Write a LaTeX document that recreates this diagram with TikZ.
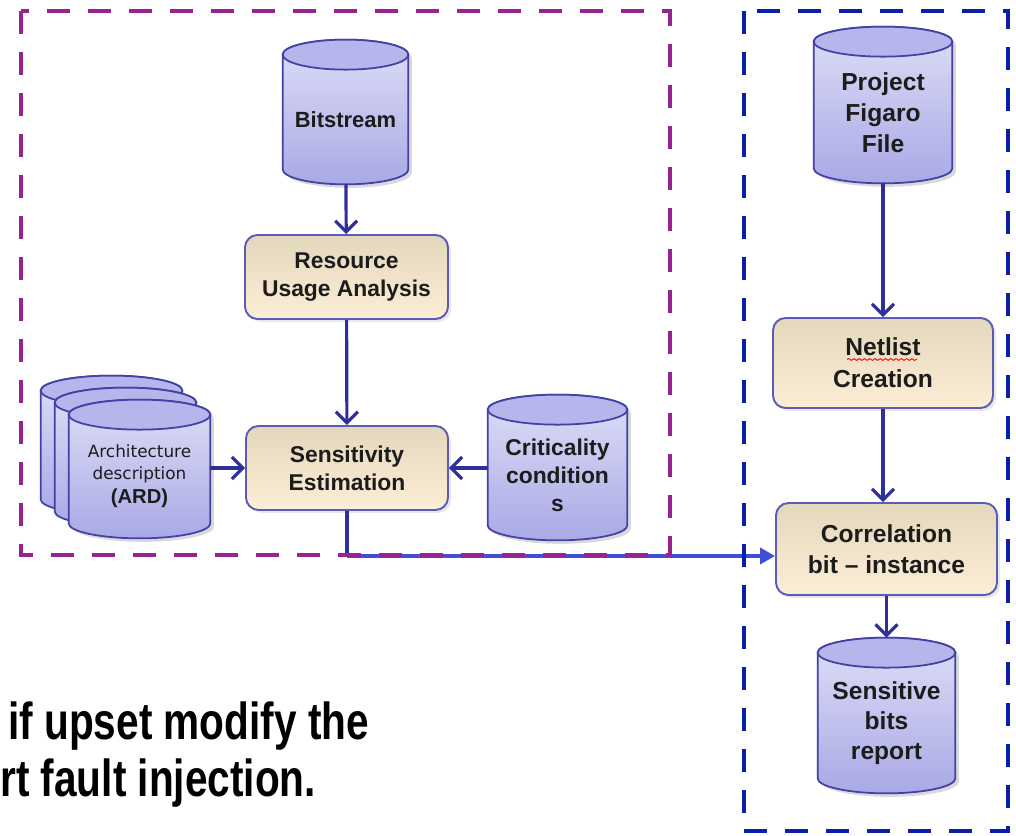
\documentclass[tikz,border=0pt]{standalone}
\usepackage{fontspec}
\setmainfont{Liberation Sans}
\newfontfamily\dejavu{DejaVu Sans}
\usepackage{tikz}
\usetikzlibrary{arrows.meta,calc,shadows,backgrounds,decorations.pathmorphing}

\definecolor{boxtop}{HTML}{E3D7BC}
\definecolor{boxbot}{HTML}{FCEED6}
\definecolor{boxedge}{HTML}{5C5CB8}
\definecolor{cyltop}{HTML}{DEDEF7}
\definecolor{cylbot}{HTML}{A9A9E6}
\definecolor{cylend}{HTML}{B6B6EC}
\definecolor{cyledge}{HTML}{4141A6}
\definecolor{flowc}{HTML}{2F2F9C}
\definecolor{linkc}{HTML}{3F4FD8}
\definecolor{framep}{HTML}{98228F}
\definecolor{frameb}{HTML}{0B20A8}
\definecolor{txt}{HTML}{1C1C1C}

% cylinder drawn round a named node: node, dx, dy, style
\newcommand{\cylbody}[4]{%
  \path[#4] let \p1=($(#1.north west)+(#2,#3)$), \p2=($(#1.south east)+(#2,#3)$),
    \n1={(\x2-\x1)/2} in
    (\x1,\y1) -- (\x1,\y2+0.3cm)
    arc[start angle=180,end angle=360,x radius=\n1,y radius=0.3cm]
    -- (\x2,\y1)
    arc[start angle=0,end angle=180,x radius=\n1,y radius=0.3cm] -- cycle;}
\newcommand{\cylcap}[4]{%
  \path[#4] let \p1=($(#1.north west)+(#2,#3)$), \p2=($(#1.south east)+(#2,#3)$),
    \n1={(\x2-\x1)/2} in
    ({(\x1+\x2)/2},\y1) ellipse [x radius=\n1,y radius=0.3cm];}
\newcommand{\dbcyl}[3]{%
  \cylbody{#1}{#2+0.07}{#3-0.07}{fill=black!15}
  \cylbody{#1}{#2}{#3}{cylside}
  \cylcap{#1}{#2}{#3}{cylend}}

\tikzset{
  proc/.style={draw=boxedge, line width=1.1pt, rounded corners=0.25cm,
    top color=boxtop, bottom color=boxbot, text=txt, align=center,
    font=\bfseries\fontsize{13}{16}\selectfont,
    drop shadow={shadow xshift=0.06cm, shadow yshift=-0.06cm, fill=black!18}},
  db/.style={text=txt, align=center, inner sep=0pt,
    font=\bfseries\fontsize{13}{16}\selectfont},
  cylside/.style={draw=cyledge, line width=1pt, top color=cyltop, bottom color=cylbot},
  cylend/.style={draw=cyledge, line width=1pt, fill=cylend},
  flow/.style={draw=flowc, line width=1.8pt, -{Straight Barb[length=2.2mm,width=4.4mm]}},
  flowline/.style={draw=flowc, line width=1.8pt},
  link/.style={draw=linkc, line width=2.2pt, -{Triangle[length=3mm,width=3.2mm]}},
  frame/.style={line width=2.8pt, dash pattern=on 0.46cm off 0.36cm}
}

\begin{document}
\begin{tikzpicture}
\useasboundingbox (0,0) rectangle (20.32,16.72);

% Left group
\node[db, minimum width=2.5cm, minimum height=2.58cm, font=\bfseries\fontsize{12.5}{15}\selectfont] (bits) at (6.91,14.33) {Bitstream};
\node[proc, minimum width=4.06cm, minimum height=1.68cm] (rua) at (6.93,11.18) {Resource\\Usage Analysis};
\node[proc, minimum width=4.04cm, minimum height=1.68cm] (sens) at (6.94,7.36) {Sensitivity\\Estimation};
\node[db, minimum width=2.82cm, minimum height=2.46cm, font=\dejavu\fontsize{9.6}{12.5}\selectfont] (ard) at (2.79,7.19)
  {Architecture\\description\\[1pt]{\rmfamily\bfseries\fontsize{11.5}{13}\selectfont(ARD)}};
\node[db, minimum width=2.78cm, minimum height=2.6cm] (crit) at (11.15,7.22) {Criticality\\condition\\s};

% Right group
\node[db, minimum width=2.76cm, minimum height=2.82cm, font=\bfseries\fontsize{14}{17.5}\selectfont] (pff) at (17.66,14.47) {Project\\Figaro\\File};
\node[proc, minimum width=4.4cm, minimum height=1.8cm, font=\bfseries\fontsize{14}{18}\selectfont] (net) at (17.66,9.46) {Netlist\\Creation};
\node[proc, minimum width=4.42cm, minimum height=1.84cm, font=\bfseries\fontsize{14}{17.5}\selectfont] (corr) at (17.73,5.74) {Correlation\\bit -- instance};
\node[db, minimum width=2.74cm, minimum height=2.8cm, font=\bfseries\fontsize{14}{17}\selectfont] (sbr) at (17.73,2.26) {Sensitive\\bits\\report};

% Cylinders behind the texts
\begin{pgfonlayer}{background}
\cylbody{ard}{-0.56}{0.48}{cylside}
\cylcap{ard}{-0.56}{0.48}{cylend}
\cylbody{ard}{-0.28}{0.24}{cylside}
\cylcap{ard}{-0.28}{0.24}{cylend}
\dbcyl{ard}{0}{0}
\dbcyl{bits}{0}{0}
\dbcyl{crit}{0}{0}
\dbcyl{pff}{0}{0}
\dbcyl{sbr}{0}{0}
\end{pgfonlayer}

% Spell-check mark
\draw[red, line width=0.5pt, decorate, decoration={snake, amplitude=0.5pt, segment length=3pt}]
  ($(net.center)+(-0.72,0.07)$) -- ($(net.center)+(0.68,0.07)$);

% Arrows
\draw[flow] (bits) -- (rua);
\draw[flow] (rua) -- (sens);
\draw[flow] (ard.east |- sens.west) -- (sens.west);
\draw[flow] (crit.west |- sens.east) -- (sens.east);
\draw[flow] (pff) -- (net);
\draw[flow] (net.south) -- (net.south |- corr.north);
\draw[flow, shorten >=0.3cm] (corr.south) -- (corr.south |- sbr.north);
\coordinate (turn) at ($(sens.south |- 0,5.6)$);
\draw[flowline] (sens.south) -- (turn);
\draw[link] (turn) -- (turn -| corr.west);

% Dashed frames
\draw[frame, framep] (0.42,16.5) rectangle (13.4,5.62);
\draw[frame, frameb] (14.88,16.5) rectangle (20.16,0.1);

% Slide text
\node[anchor=base west, inner sep=0pt, font=\bfseries\fontsize{29.6}{34}\selectfont] (note1) at (0.16,1.92) {\scalebox{0.78}[1]{if upset modify the}};
\node[anchor=base west, inner sep=0pt, font=\bfseries\fontsize{29.6}{34}\selectfont] (note2) at (0,0.78) {\scalebox{0.78}[1]{rt fault injection.}};
\end{tikzpicture}
\end{document}
